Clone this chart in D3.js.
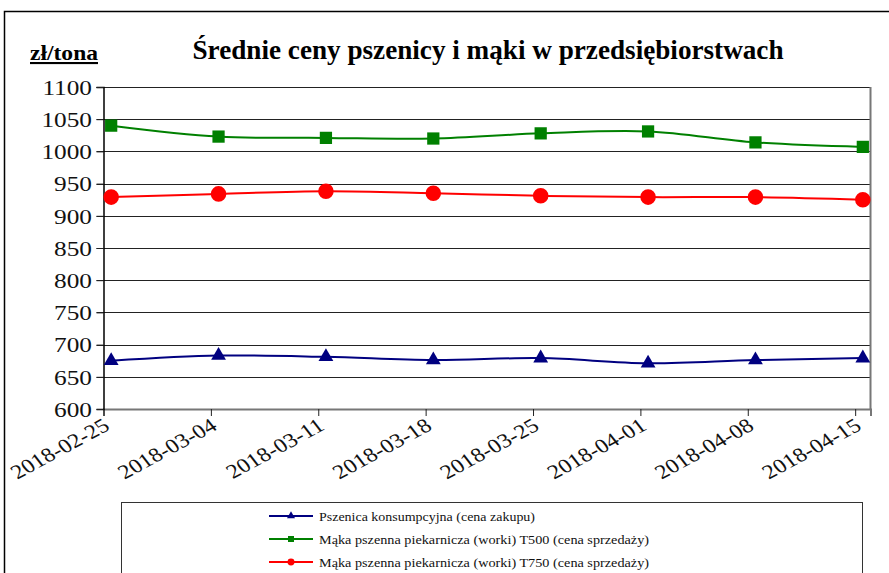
<!DOCTYPE html>
<html>
<head>
<meta charset="utf-8">
<script src="https://cdn.jsdelivr.net/npm/d3@7"></script>
<style>
  body { margin: 0; background: #fff; }
</style>
</head>
<body>
<div id="chart"></div>
<script>
// data
var dates = ["2018-02-25", "2018-03-04", "2018-03-11", "2018-03-18", "2018-03-25", "2018-04-01", "2018-04-08", "2018-04-15"];
var pszenica = [675, 683, 681, 676, 679, 671, 676, 679];
var maka500 = [1040, 1023, 1021, 1020, 1028, 1031, 1014, 1007];
var maka750 = [929, 934, 938, 935, 931, 929, 929, 925];
var yTicks = [600, 650, 700, 750, 800, 850, 900, 950, 1000, 1050, 1100];
var seriesNames = [
    "Pszenica konsumpcyjna (cena zakupu)",
    "Mąka pszenna piekarnicza (worki) T500 (cena sprzedaży)",
    "Mąka pszenna piekarnicza (worki) T750 (cena sprzedaży)"
];

(function() {
    var width = 889, height = 573;
    var plotLeft = 103.5, plotRight = 870.5, plotTop = 87, plotBottom = 409;
    var serif = "'Liberation Serif', 'Times New Roman', Times, serif";

    var parse = d3.utcParse("%Y-%m-%d");
    var days = dates.map(parse);

    var svg = d3.select("#chart").append("svg")
        .attr("width", width)
        .attr("height", height)
        .attr("font-family", serif);

    // outer frame
    svg.append("rect")
        .attr("x", 4.5).attr("y", 11.5)
        .attr("width", 920).attr("height", 700)
        .attr("fill", "none")
        .attr("stroke", "#000")
        .attr("stroke-width", 1.5);

    // excel date axis: each day gets a slot, points sit in the middle of it
    var x = d3.scaleUtc()
        .domain([days[0], d3.utcDay.offset(days[days.length - 1], 1)])
        .range([plotLeft, plotRight]);
    var y = d3.scaleLinear().domain([600, 1100]).range([plotBottom, plotTop]);

    var px = function(d) { return x(d3.utcHour.offset(d, 12)); };

    // gridlines
    svg.append("g")
        .selectAll("line")
        .data(yTicks.slice(1))
        .join("line")
        .attr("x1", plotLeft - 7).attr("x2", plotRight)
        .attr("y1", function(d) { return Math.round(y(d)) + 0.5; })
        .attr("y2", function(d) { return Math.round(y(d)) + 0.5; })
        .attr("stroke", "#222")
        .attr("stroke-width", 1);

    // right border (grey)
    svg.append("line")
        .attr("x1", plotRight).attr("x2", plotRight)
        .attr("y1", plotTop).attr("y2", plotBottom)
        .attr("stroke", "#777").attr("stroke-width", 2);

    var xAxis = svg.append("g")
        .attr("transform", "translate(0," + plotBottom + ")")
        .call(d3.axisBottom(x).tickValues(days).tickSize(7).tickFormat(""));
    xAxis.select(".domain").attr("stroke", "#777").attr("stroke-width", 2);
    xAxis.selectAll(".tick line").attr("stroke", "#222");

    var yAxis = svg.append("g")
        .attr("transform", "translate(" + plotLeft + ",0)")
        .call(d3.axisLeft(y).tickValues(yTicks).tickSize(7).tickFormat(""));
    yAxis.select(".domain").attr("stroke", "#000").attr("stroke-width", 1.5);
    yAxis.selectAll(".tick line").attr("stroke", "#222");

    // y labels, a bit wider than plain Times
    svg.append("g")
        .selectAll("g")
        .data(yTicks)
        .join("g")
        .attr("transform", function(d) { return "translate(92," + y(d) + ") scale(1.15,1)"; })
        .append("text")
        .attr("text-anchor", "end")
        .attr("dy", "0.35em")
        .attr("font-family", serif)
        .attr("font-size", 22)
        .attr("fill", "#111")
        .text(function(d) { return d; });

    // x labels, slanted (the skew gives the italic look of the original)
    svg.append("g")
        .selectAll("g")
        .data(days)
        .join("g")
        .attr("transform", function(d) { return "translate(" + (x(d) + 3) + ",423) scale(1.2,1) rotate(-33)"; })
        .append("text")
        .attr("text-anchor", "end")
        .attr("dy", "0.35em")
        .attr("font-family", serif)
        .attr("font-size", 20)
        .attr("fill", "#111")
        .text(function(d, i) { return dates[i]; });

    // title + unit
    svg.append("text")
        .attr("x", 488).attr("y", 59)
        .attr("text-anchor", "middle")
        .attr("font-family", serif)
        .attr("font-size", 27)
        .attr("font-weight", "bold")
        .attr("textLength", 591)
        .attr("lengthAdjust", "spacingAndGlyphs")
        .text("Średnie ceny pszenicy i mąki w przedsiębiorstwach");

    svg.append("text")
        .attr("x", 30).attr("y", 60)
        .attr("font-family", serif)
        .attr("font-size", 21)
        .attr("font-weight", "bold")
        .attr("text-decoration", "underline")
        .attr("textLength", 68)
        .attr("lengthAdjust", "spacingAndGlyphs")
        .text("zł/tona");

    var line = d3.line()
        .x(function(d, i) { return px(days[i]); })
        .y(function(d) { return y(d); })
        .curve(d3.curveCatmullRom.alpha(0.5));

    var series = [
        {values: pszenica, color: "#000080", shape: d3.symbolTriangle, size: 95, small: 28},
        {values: maka500, color: "#008000", shape: d3.symbolSquare, size: 150, small: 36},
        {values: maka750, color: "#ff0000", shape: d3.symbolCircle, size: 190, small: 38}
    ];

    series.forEach(function(s) {
        svg.append("path")
            .datum(s.values)
            .attr("d", line)
            .attr("fill", "none")
            .attr("stroke", s.color)
            .attr("stroke-width", 2);

        svg.append("g")
            .selectAll("path")
            .data(s.values)
            .join("path")
            .attr("transform", function(d, i) { return "translate(" + px(days[i]) + "," + y(d) + ")"; })
            .attr("d", d3.symbol().type(s.shape).size(s.size))
            .attr("fill", s.color);
    });

    // legend
    var legend = svg.append("g");
    legend.append("rect")
        .attr("x", 121.5).attr("y", 502.5)
        .attr("width", 741).attr("height", 120)
        .attr("fill", "#fff")
        .attr("stroke", "#333");

    var rowY = [516, 539, 562];
    var textLen = [216, 330, 330];
    series.forEach(function(s, i) {
        var g = legend.append("g").attr("transform", "translate(0," + rowY[i] + ")");
        g.append("line")
            .attr("x1", 269).attr("x2", 313)
            .attr("stroke", s.color).attr("stroke-width", 2);
        g.append("path")
            .attr("transform", "translate(291,0)")
            .attr("d", d3.symbol().type(s.shape).size(s.small))
            .attr("fill", s.color);
        g.append("text")
            .attr("x", 319)
            .attr("dy", "0.35em")
            .attr("font-family", serif)
            .attr("font-size", 13.5)
            .attr("fill", "#111")
            .attr("textLength", textLen[i])
            .attr("lengthAdjust", "spacingAndGlyphs")
            .text(seriesNames[i]);
    });
})();
</script>
</body>
</html>
